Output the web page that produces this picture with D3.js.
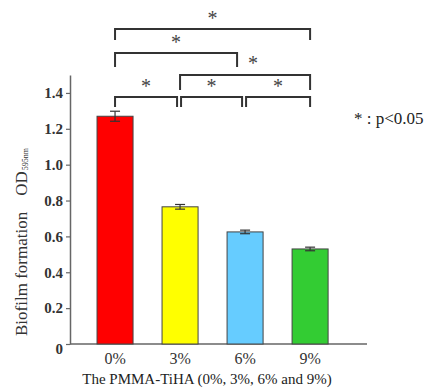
<!DOCTYPE html>
<html>
<head>
<meta charset="utf-8">
<script src="https://cdn.jsdelivr.net/npm/d3@7"></script>
<style>
  body { margin: 0; background: #fff; }
  svg, svg text { font-family: "Liberation Serif", "Times New Roman", Tinos, "DejaVu Serif", "Noto Serif", serif !important; }
</style>
</head>
<body>
<div id="chart"></div>
<script>
const groups = ["0%", "3%", "6%", "9%"];
const means = [1.27, 0.765, 0.625, 0.53];
const errors = [0.028, 0.013, 0.01, 0.01];
const colors = ["#ff0000", "#ffff00", "#66ccff", "#33cc33"];
const yTicks = [0, 0.2, 0.4, 0.6, 0.8, 1.0, 1.2, 1.4];
// significance brackets: [from, to, level]
const brackets = [
  ["0%", "3%", 0], ["3%", "6%", 0], ["6%", "9%", 0],
  ["3%", "9%", 1], ["0%", "6%", 2], ["0%", "9%", 3]
];

const width = 430, height = 390;
const svg = d3.select("#chart").append("svg")
  .attr("width", width).attr("height", height);

const x = d3.scaleBand().domain(groups).range([70, 367])
  .paddingInner(0.446).paddingOuter(0.507).align(0.41);
const y = d3.scaleLinear().domain([0, 1.5]).range([344, 75]);

// y axis
const yAxis = svg.append("g").attr("transform", "translate(70,0)")
  .call(d3.axisLeft(y).tickValues(yTicks).tickSize(4).tickSizeOuter(0)
    .tickFormat(d => d === 0 ? "0" : d3.format(".1f")(d)));
yAxis.attr("font-family", null);
yAxis.select(".domain").attr("stroke", "#666").attr("stroke-width", 1.5);
yAxis.selectAll(".tick line").attr("stroke", "#666").attr("stroke-width", 1.2);
yAxis.selectAll(".tick text").attr("font-size", 15).attr("fill", "#333")
  .attr("font-weight", "bold").attr("x", -7);
yAxis.selectAll(".tick").filter(d => d === 0).select("text").attr("dy", "0.6em");

// x axis line
svg.append("line").attr("x1", 70).attr("x2", 367).attr("y1", 344).attr("y2", 344)
  .attr("stroke", "#666").attr("stroke-width", 1.5);

// bars
svg.append("g").selectAll("rect").data(groups).join("rect")
  .attr("x", d => x(d)).attr("width", x.bandwidth())
  .attr("y", (d, i) => y(means[i])).attr("height", (d, i) => y(0) - y(means[i]))
  .attr("fill", (d, i) => colors[i]).attr("stroke", "#444").attr("stroke-width", 1);

// error bars
const eb = svg.append("g").attr("stroke", "#333").attr("stroke-width", 1.2);
groups.forEach((g, i) => {
  const cx = x(g) + x.bandwidth() / 2;
  eb.append("line").attr("x1", cx).attr("x2", cx)
    .attr("y1", y(means[i] + errors[i])).attr("y2", y(means[i] - errors[i]));
  [means[i] + errors[i], means[i] - errors[i]].forEach(v => {
    eb.append("line").attr("x1", cx - 5).attr("x2", cx + 5).attr("y1", y(v)).attr("y2", y(v));
  });
});

// x tick labels
svg.append("g").selectAll("text").data(groups).join("text")
  .attr("x", d => x(d) + x.bandwidth() / 2).attr("y", 364)
  .attr("text-anchor", "middle").attr("font-size", 16).attr("fill", "#333")
  .text(d => d);

// x title
svg.append("text").attr("x", 207).attr("y", 384).attr("text-anchor", "middle")
  .attr("font-size", 15).attr("fill", "#222")
  .text("The PMMA-TiHA (0%, 3%, 6% and 9%)");

// y title
const yt = svg.append("text").attr("transform", "translate(27,336) rotate(-90)")
  .attr("font-size", 17).attr("fill", "#333");
yt.append("tspan").text("Biofilm formation");
yt.append("tspan").attr("dx", 16).text("OD");
yt.append("tspan").attr("font-size", 8).attr("dy", 1).attr("dx", 1).text("595nm");

// brackets
const levelY = [97, 75, 53, 29];
const legLen = [10, 15, 14, 11];
const bg = svg.append("g").attr("fill", "none").attr("stroke", "#333").attr("stroke-width", 2);
brackets.forEach(([a, b, lv]) => {
  let x1 = x(a) + x.bandwidth() / 2, x2 = x(b) + x.bandwidth() / 2;
  if (lv === 0) {
    if (a !== "0%") x1 += 1;
    if (b !== "9%") x2 -= 3;
  }
  if (lv === 2) x2 -= 8;
  const yy = levelY[lv];
  bg.append("path").attr("d", `M${x1},${yy + legLen[lv]}V${yy}H${x2}V${yy + legLen[lv]}`);
  let sx = (x1 + x2) / 2, sy = yy - 12;
  if (lv === 1) { sx = 253; sy = 62; }
  svg.append("text").attr("x", sx).attr("y", sy + 8).attr("text-anchor", "middle")
    .attr("font-size", 20).attr("fill", "#444").text("*");
});

// legend
svg.append("text").attr("x", 354).attr("y", 124).attr("font-size", 17).attr("fill", "#222")
  .text("* : p<0.05");
</script>
</body>
</html>
